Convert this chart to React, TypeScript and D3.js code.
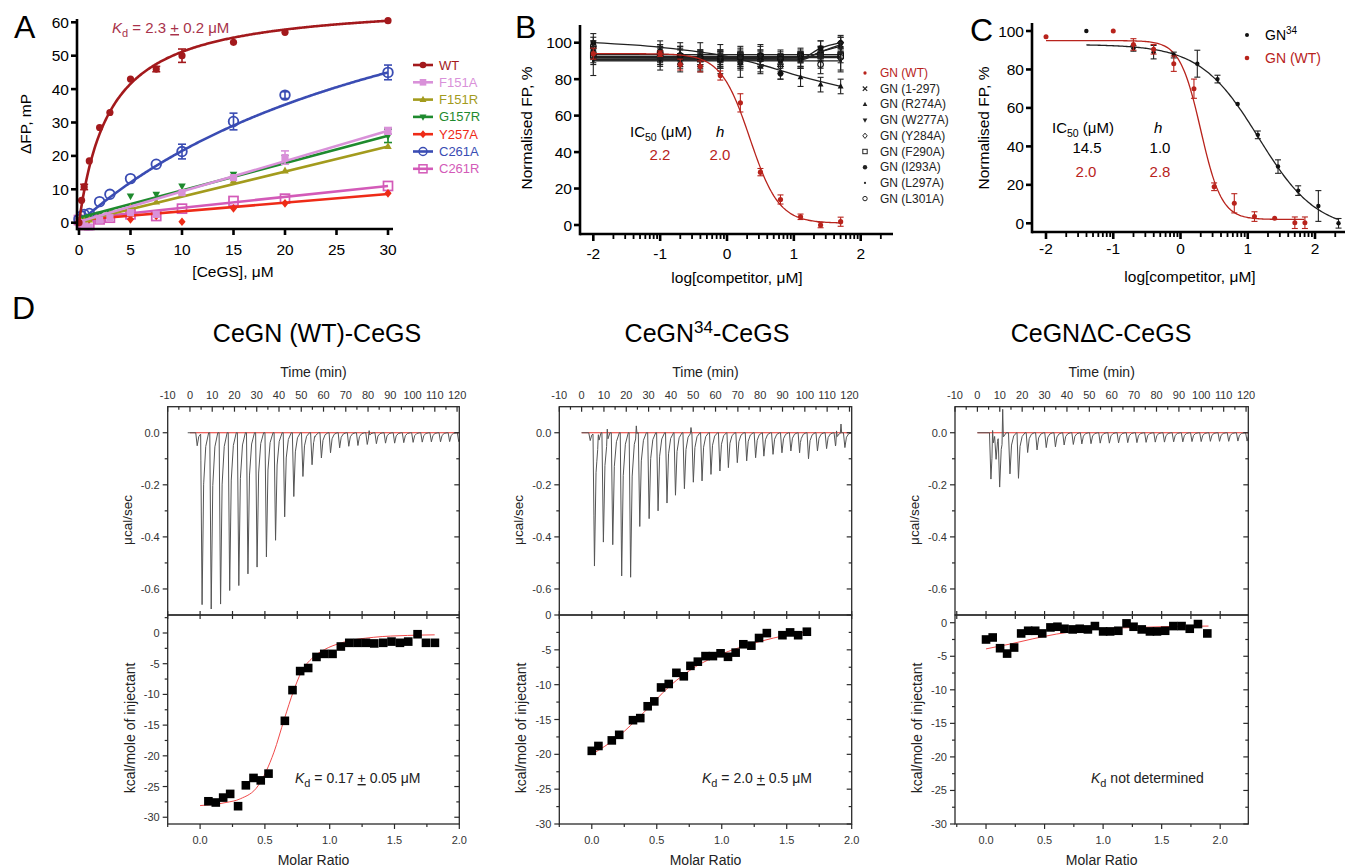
import React from 'react';
import * as d3 from 'd3';

type Pt = [number, number];
const FONT = '"Liberation Sans", Arial, Helvetica, sans-serif';

// ================= Panel A : ΔFP vs [CeGS] =================
const A_CONC = [0, 0.25, 0.5, 1, 2, 3, 5, 7.5, 10, 15, 20, 30];
const A_NAMES = ['WT', 'F151A', 'F151R', 'G157R', 'Y257A', 'C261A', 'C261R'];
const A_COLORS = ['#a3191c', '#d991d9', '#a39b1d', '#1e8a2e', '#ee2b17', '#3a4cb3', '#d35ab8'];
const A_MARKERS = ['circle', 'square', 'tri', 'tridown', 'diamond', 'ocircle', 'osquare'];
const A_WT = [0, 6.7, 10.7, 18.5, 28.5, 33, 43, 46, 50, 54, 57, 60.5];
const A_F151A = [0, 0, -1, -1.3, 0.8, 1.5, 3, 2.5, 9, 13.5, 19.5, 27.5];
const A_F151R = [0, 0.3, 0.5, 0.8, 1.5, 2.5, 4.5, 6.2, 9, 12.5, 15.5, 22.8];
const A_G157R = [0.5, 1, 1.2, 1.8, 2.5, 3, 8, 8.5, 11, 14.5, 19.5, 26];
const A_Y257A = [0, 0.3, 0.5, 1, 1.5, 2, 1, 2, 0.3, 4.3, 5.8, 8.8];
const A_C261A = [1, 2, 2.5, 2.8, 6.3, 8.5, 13.2, 17.5, 21.3, 30.3, 38.2, 45];
const A_C261R = [0.8, 0, -0.7, -0.7, 1, 1.5, 2.5, 2, 4.2, 6.5, 7.2, 11];
const A_VALUES = [A_WT, A_F151A, A_F151R, A_G157R, A_Y257A, A_C261A, A_C261R];
const A_ERR_WT = [0, 0, 0.8, 0, 0, 0, 0, 0.8, 2, 0, 0, 0];
const A_ERR_F151A = [0, 0, 0, 0, 0, 0, 0, 0, 0, 0, 2, 1];
const A_ERR_G157R = [0, 0, 0, 0, 0, 0, 0, 0, 0, 0, 0, 2];
const A_ERR_C261A = [0, 0, 0, 0, 0, 0, 0, 0, 2.2, 2.5, 1, 2.2];
const A_ERRORS = [A_ERR_WT, A_ERR_F151A, null, A_ERR_G157R, null, A_ERR_C261A, null];
// fits: hyperbola (Bmax, K) or straight line (value at 0, value at 30)
const A_FIT_KIND = ['hyperbola', 'linear', 'linear', 'linear', 'linear', 'hyperbola', 'linear'];
const A_FIT_P1 = [66.5, 0.3, 0.3, 1.5, 0.8, 99.3, 1.2];
const A_FIT_P2 = [3.0, 27.5, 22.8, 26, 8.6, 36.2, 11];

// ================= Panel B : competition FP =================
const B_LOGC = [-2, -1, -0.7, -0.4, -0.1, 0.2, 0.5, 0.8, 1.1, 1.4, 1.7];
const B_NAMES = ['GN (WT)', 'GN (1-297)', 'GN (R274A)', 'GN (W277A)', 'GN (Y284A)', 'GN (F290A)', 'GN (I293A)', 'GN (L297A)', 'GN (L301A)'];
const B_MARKERS = ['dot', 'cross', 'tri', 'tridown', 'odiamond', 'osquare', 'circle', 'smalldot', 'ocircle'];
const B_WT = [94, 94, 88, 87, 82, 67, 29, 14, 4.5, 0, 1.8];
const B_1_297 = [92, 91, 90, 91, 92, 91, 91, 90, 91, 96, 99];
const B_R274A = [100, 96, 94, 92, 91, 89, 87, 84, 81, 77, 76];
const B_W277A = [95, 93, 92, 91, 91, 90, 90, 89, 90, 94, 97];
const B_Y284A = [97, 94, 92, 92, 92, 91, 93, 87, 91, 95, 100];
const B_F290A = [93, 93, 92, 91, 91, 93, 92, 92, 93, 93, 93];
const B_I293A = [100, 93, 91, 91, 91, 89, 91, 83, 92, 97, 100];
const B_L297A = [90, 90, 90, 90, 90, 90, 90, 90, 90, 90, 90];
const B_L301A = [98, 95, 93, 92, 91, 92, 93, 91, 93, 88, 92];
const B_VALUES = [B_WT, B_1_297, B_R274A, B_W277A, B_Y284A, B_F290A, B_I293A, B_L297A, B_L301A];
const B_ERR_WT = [3, 1.5, 3, 3, 2.5, 5, 2, 2.5, 1.5, 1.5, 2.5];
const B_ERR_BLACK = [4, 4, 3, 3, 4, 4, 5, 8, 3, 4, 5];
const B_WT_FIT = { top: 94, bottom: 1, ic50: 2.2, h: 2.0 };
const B_FIT_NODES: Pt[][] = [
  [],
  [[-2, 91], [1.1, 91], [1.4, 95], [1.7, 99]],
  [[-2, 100], [-1, 97.5], [0, 92.5], [0.5, 88], [1.1, 81.5], [1.7, 76]],
  [[-2, 90.5], [1.1, 90.5], [1.4, 95], [1.7, 98]],
  [[-2, 92.5], [1.7, 92.5]],
  [[-2, 93.5], [1.7, 93.5]],
  [[-2, 91], [1.1, 91.5], [1.4, 97], [1.7, 100]],
  [[-2, 90], [1.7, 90]],
  [[-2, 91.8], [1.7, 91.8]],
];

// ================= Panel C : GN34 vs GN(WT) =================
const C_LOGC_34 = [-1.4, -0.7, -0.4, -0.1, 0.25, 0.55, 0.85, 1.15, 1.45, 1.75, 2.05, 2.35];
const C_GN34 = [100, 91, 89, 87.5, 83, 75, 62, 46, 29.5, 17, 9, 0];
const C_GN34_ERR = [0, 1.5, 3.5, 1.5, 7, 2, 0, 2, 3.5, 2.5, 8, 2.5];
const C_LOGC_WT = [-2, -1, -0.7, -0.4, -0.1, 0.2, 0.5, 0.8, 1.1, 1.4, 1.7, 1.85];
const C_WT = [97, 100, 93, 90.5, 83, 70, 19, 10.4, 3.5, 2.6, 0.3, 0.3];
const C_WT_ERR = [0, 0, 3, 2.5, 4, 5, 2, 5, 2.5, 0, 3, 3];
const C_FIT_34 = { top: 93, bottom: -4, ic50: 14.5, h: 1.0 };
const C_FIT_WT = { top: 95, bottom: 2, ic50: 2.0, h: 2.8 };

// ================= Panel D : ITC =================
// thermogram peaks: [time (min), peak power (µcal/s)]
const D_WT_PEAKS: Pt[] = [[2.8, -0.05], [5, -0.658], [9.1, -0.677], [13.3, -0.658], [17.4, -0.606], [21.5, -0.587], [25.6, -0.542], [29.7, -0.516], [33.9, -0.477], [38, -0.413], [42.1, -0.323], [46.2, -0.245], [50.3, -0.168], [54.4, -0.123], [58.6, -0.097], [62.7, -0.077], [66.8, -0.058], [70.9, -0.052], [75, -0.049], [79.2, -0.045], [83.3, -0.042], [87.4, -0.04], [91.5, -0.04], [95.6, -0.038], [99.8, -0.037], [103.9, -0.036], [108, -0.035], [112.1, -0.035], [116.2, -0.034], [120.3, -0.034]];
const D_WT_SPIKES: Pt[] = [[56, 0.01], [80.5, 0.02]];
const D_WT_RATIO = [0.064, 0.121, 0.178, 0.232, 0.293, 0.353, 0.412, 0.468, 0.528, 0.654, 0.713, 0.772, 0.834, 0.898, 0.958, 1.022, 1.086, 1.151, 1.215, 1.279, 1.344, 1.413, 1.477, 1.542, 1.606, 1.678, 1.743, 1.812];
const D_WT_HEAT = [-27.4, -27.6, -26.8, -26.2, -28.2, -24.8, -23.6, -24.0, -22.9, -14.3, -9.3, -6.2, -5.7, -3.9, -3.4, -3.4, -2.2, -1.6, -1.6, -1.6, -1.7, -1.6, -1.4, -1.6, -1.4, -0.2, -1.6, -1.6];
const D_WT_FIT_RATIO = [0, 0.2, 0.31, 0.45, 0.57, 0.65, 0.72, 0.78, 0.87, 0.96, 1.09, 1.34, 1.6, 1.81];
const D_WT_FIT_HEAT = [-28.1, -27.6, -27, -24.8, -19.4, -14, -9.5, -6.4, -4, -2.7, -1.6, -0.7, -0.4, -0.3];

const D_34_PEAKS: Pt[] = [[3.4, -0.03], [5.3, -0.51], [9.3, -0.42], [13.5, -0.43], [17.5, -0.55], [21.5, -0.555], [25.6, -0.36], [29.8, -0.33], [33.8, -0.30], [37.8, -0.27], [41.6, -0.24], [45.6, -0.215], [49.6, -0.19], [53.5, -0.185], [57.5, -0.16], [61.5, -0.147], [65.3, -0.134], [69.3, -0.115], [73.5, -0.108], [77.5, -0.096], [81.2, -0.09], [85.3, -0.083], [89.3, -0.077], [93.3, -0.07], [97.2, -0.077], [101.2, -0.1], [105.2, -0.07], [109.3, -0.061], [113.3, -0.051], [117.5, -0.057]];
const D_34_SPIKES: Pt[] = [[7.5, 0.03], [11.5, 0.045], [24.5, 0.04], [49, 0.02], [98, 0.012], [114.2, 0.035], [116.2, 0.035]];
const D_34_RATIO = [0, 0.051, 0.154, 0.211, 0.317, 0.373, 0.43, 0.481, 0.533, 0.592, 0.651, 0.708, 0.759, 0.816, 0.875, 0.932, 0.991, 1.048, 1.107, 1.166, 1.228, 1.287, 1.347, 1.467, 1.526, 1.588, 1.655];
const D_34_HEAT = [-19.5, -18.8, -18.0, -17.2, -15.1, -14.8, -13.1, -12.4, -10.4, -9.9, -8.3, -8.8, -7.3, -6.7, -5.9, -5.9, -5.5, -6.0, -5.4, -4.2, -4.4, -3.3, -2.6, -2.9, -2.5, -2.9, -2.4];
const D_34_FIT_RATIO = [0, 0.2, 0.4, 0.6, 0.8, 1.0, 1.2, 1.4, 1.66];
const D_34_FIT_HEAT = [-20, -17.5, -14, -10.2, -7.4, -5.6, -4.3, -3.3, -2.4];

const D_DC_PEAKS: Pt[] = [[5.6, -0.178], [7.9, -0.095], [9.5, -0.2], [14.1, -0.158], [17.9, -0.175], [22, -0.076], [26.2, -0.066], [30.3, -0.057], [34.4, -0.054], [38.3, -0.047], [42.4, -0.045], [46.2, -0.043], [50.3, -0.042], [54.4, -0.04], [58.5, -0.04], [62.6, -0.039], [66.7, -0.038], [70.8, -0.038], [74.9, -0.037], [79, -0.036], [83.1, -0.036], [87.2, -0.035], [91.3, -0.035], [95.4, -0.034], [99.5, -0.034], [103.6, -0.033], [107.7, -0.033], [111.8, -0.033], [115.9, -0.032], [120, -0.032]];
const D_DC_SPIKES: Pt[] = [[6.8, 0.06], [11.3, 0.12]];
const D_DC_RATIO = [0, 0.057, 0.12, 0.18, 0.24, 0.30, 0.36, 0.42, 0.48, 0.55, 0.61, 0.67, 0.74, 0.80, 0.87, 0.93, 1.0, 1.06, 1.13, 1.20, 1.26, 1.33, 1.40, 1.46, 1.53, 1.60, 1.67, 1.74, 1.81, 1.89];
const D_DC_HEAT = [-2.5, -2.2, -3.8, -4.6, -3.7, -1.6, -1.2, -1.2, -1.6, -0.7, -0.6, -0.9, -1.0, -0.9, -1.0, -0.5, -1.3, -1.3, -1.2, -0.1, -0.6, -1.0, -1.3, -1.3, -1.2, -0.5, -0.5, -0.9, -0.2, -1.6];
const D_DC_FIT_RATIO = [0, 0.2, 0.4, 0.6, 0.8, 1.0, 1.3, 1.6, 1.9];
const D_DC_FIT_HEAT = [-3.9, -3.2, -2.4, -1.7, -1.2, -0.9, -0.7, -0.55, -0.5];

// ---------------- helpers ----------------
const RED = '#b8231c';

function Marker({ kind, x, y, r, color }: { kind: string; x: number; y: number; r: number; color: string }) {
  switch (kind) {
    case 'circle':
      return <circle cx={x} cy={y} r={r} fill={color} />;
    case 'dot':
      return <circle cx={x} cy={y} r={r * 0.75} fill={color} />;
    case 'smalldot':
      return <circle cx={x} cy={y} r={r * 0.5} fill={color} />;
    case 'ocircle':
      return <circle cx={x} cy={y} r={r} fill="none" stroke={color} strokeWidth={Math.max(1, r * 0.38)} />;
    case 'square':
      return <rect x={x - r} y={y - r} width={2 * r} height={2 * r} fill={color} />;
    case 'osquare':
      return <rect x={x - r} y={y - r} width={2 * r} height={2 * r} fill="none" stroke={color} strokeWidth={Math.max(1, r * 0.38)} />;
    case 'tri':
      return <polygon points={`${x},${y - r * 1.2} ${x + r * 1.05},${y + r * 0.7} ${x - r * 1.05},${y + r * 0.7}`} fill={color} />;
    case 'tridown':
      return <polygon points={`${x},${y + r * 1.2} ${x + r * 1.05},${y - r * 0.7} ${x - r * 1.05},${y - r * 0.7}`} fill={color} />;
    case 'diamond':
      return <polygon points={`${x},${y - r * 1.2} ${x + r},${y} ${x},${y + r * 1.2} ${x - r},${y}`} fill={color} />;
    case 'odiamond':
      return <polygon points={`${x},${y - r * 1.2} ${x + r},${y} ${x},${y + r * 1.2} ${x - r},${y}`} fill="none" stroke={color} strokeWidth={1} />;
    case 'cross':
      return (
        <g stroke={color} strokeWidth={1.2}>
          <line x1={x - r} y1={y - r} x2={x + r} y2={y + r} />
          <line x1={x - r} y1={y + r} x2={x + r} y2={y - r} />
        </g>
      );
    default:
      return null;
  }
}

function ErrBar({ x, y0, y1, color, cap = 3, w = 1.2 }: { x: number; y0: number; y1: number; color: string; cap?: number; w?: number }) {
  return (
    <g stroke={color} strokeWidth={w}>
      <line x1={x} x2={x} y1={y0} y2={y1} />
      <line x1={x - cap} x2={x + cap} y1={y0} y2={y0} />
      <line x1={x - cap} x2={x + cap} y1={y1} y2={y1} />
    </g>
  );
}

function hillCurve(p: { top: number; bottom: number; ic50: number; h: number }, lo: number, hi: number): Pt[] {
  const l = Math.log10(p.ic50);
  return d3.range(lo, hi + 1e-9, 0.02).map((v) => [v, p.bottom + (p.top - p.bottom) / (1 + Math.pow(10, (v - l) * p.h))] as Pt);
}

function logTicks(lo: number, hi: number) {
  const major = d3.range(Math.ceil(lo), Math.floor(hi) + 1);
  const minor: number[] = [];
  for (let n = Math.floor(lo); n <= hi; n++) {
    for (let k = 2; k <= 9; k++) {
      const v = n + Math.log10(k);
      if (v >= lo && v <= hi) minor.push(v);
    }
  }
  return { major, minor };
}

// ---------------- Panel A ----------------
function PanelA() {
  const x = d3.scaleLinear().domain([0, 30]).range([79, 388]);
  const y = d3.scaleLinear().domain([0, 60]).range([222.7, 22.3]);
  const axY = 229;
  const axX = 77;
  const line = d3.line<Pt>().x((d) => x(d[0])).y((d) => y(d[1]));
  const order = [6, 5, 4, 3, 2, 1, 0];
  return (
    <g>
      <text x={14} y={38} fontSize={32}>A</text>
      {order.map((i) => {
        const fit: Pt[] = A_FIT_KIND[i] === 'hyperbola'
          ? d3.range(0, 30.0001, 0.1).map((c) => [c, (A_FIT_P1[i] * c) / (A_FIT_P2[i] + c)] as Pt)
          : [[0, A_FIT_P1[i]], [30, A_FIT_P2[i]]];
        const errs = A_ERRORS[i];
        return (
          <g key={A_NAMES[i]}>
            <path d={line(fit) || ''} fill="none" stroke={A_COLORS[i]} strokeWidth={2.6} />
            {errs && A_CONC.map((c, j) => errs[j] > 0 ? (
              <ErrBar key={j} x={x(c)} y0={y(A_VALUES[i][j] - errs[j])} y1={y(A_VALUES[i][j] + errs[j])} color={A_COLORS[i]} cap={4} w={1.6} />
            ) : null)}
            {A_CONC.map((c, j) => (
              <Marker key={j} kind={A_MARKERS[i]} x={x(c)} y={y(A_VALUES[i][j])} r={A_MARKERS[i] === 'ocircle' ? 4.8 : A_MARKERS[i] === 'osquare' ? 4.5 : 3.6} color={A_COLORS[i]} />
            ))}
          </g>
        );
      })}
      <g stroke="#000" strokeWidth={2.6}>
        <line x1={axX} x2={393} y1={axY} y2={axY} />
        <line x1={axX} x2={axX} y1={axY + 1.3} y2={19} />
        {d3.range(0, 31, 5).map((v) => <line key={v} x1={x(v)} x2={x(v)} y1={axY} y2={axY + 6} />)}
        {d3.range(0, 61, 10).map((v) => <line key={v} x1={axX - 6} x2={axX} y1={y(v)} y2={y(v)} />)}
      </g>
      {d3.range(0, 31, 5).map((v) => <text key={v} x={x(v)} y={255} fontSize={15.5} textAnchor="middle">{v}</text>)}
      {d3.range(0, 61, 10).map((v) => <text key={v} x={axX - 8} y={y(v) + 5.5} fontSize={15.5} textAnchor="end">{v}</text>)}
      <text x={233} y={277} fontSize={15.5} textAnchor="middle">[CeGS], μM</text>
      <text transform="translate(31,124) rotate(-90)" fontSize={15.5} textAnchor="middle">ΔFP, mP</text>
      <text x={112} y={33} fontSize={15} fill="#a8324a">
        <tspan fontStyle="italic">K</tspan>
        <tspan fontSize={11} dy={4}>d</tspan>
        <tspan dy={-4}> = 2.3 </tspan>
        <tspan textDecoration="underline">+</tspan>
        <tspan> 0.2 μM</tspan>
      </text>
      {A_NAMES.map((n, i) => {
        const ly = 65 + i * 17.3;
        return (
          <g key={n}>
            <line x1={413} x2={433} y1={ly} y2={ly} stroke={A_COLORS[i]} strokeWidth={2.6} />
            <Marker kind={A_MARKERS[i]} x={423} y={ly} r={A_MARKERS[i] === 'ocircle' ? 4 : A_MARKERS[i] === 'osquare' ? 4 : 3.3} color={A_COLORS[i]} />
            <text x={439} y={ly + 4.5} fontSize={13} fill={A_COLORS[i]}>{n}</text>
          </g>
        );
      })}
    </g>
  );
}

// ---------------- Panel B ----------------
function PanelB() {
  const x = d3.scaleLinear().domain([-2, 2]).range([593.3, 860.7]);
  const y = d3.scaleLinear().domain([0, 100]).range([225, 42.7]);
  const axY = 234;
  const axX = 580;
  const t = logTicks(-2, 2.46);
  const line = d3.line<Pt>().x((d) => x(d[0])).y((d) => y(d[1]));
  const smooth = d3.line<Pt>().x((d) => x(d[0])).y((d) => y(d[1])).curve(d3.curveMonotoneX);
  return (
    <g>
      <text x={515} y={38} fontSize={32}>B</text>
      {B_NAMES.map((n, i) => {
        if (i === 0) return null;
        return (
          <g key={n}>
            <path d={smooth(B_FIT_NODES[i]) || ''} fill="none" stroke="#222" strokeWidth={1.3} />
            {B_LOGC.map((c, j) => (
              <ErrBar key={'e' + j} x={x(c)} y0={y(B_VALUES[i][j] - B_ERR_BLACK[(j + i) % B_ERR_BLACK.length])} y1={y(B_VALUES[i][j] + B_ERR_BLACK[(j + i) % B_ERR_BLACK.length])} color="#222" cap={3} w={1.1} />
            ))}
            {B_LOGC.map((c, j) => (
              <Marker key={j} kind={B_MARKERS[i]} x={x(c)} y={y(B_VALUES[i][j])} r={2.8} color="#111" />
            ))}
          </g>
        );
      })}
      <path d={line(hillCurve(B_WT_FIT, -2, 1.7)) || ''} fill="none" stroke={RED} strokeWidth={1.3} />
      {B_LOGC.map((c, j) => (
        <g key={j}>
          <ErrBar x={x(c)} y0={y(B_WT[j] - B_ERR_WT[j])} y1={y(B_WT[j] + B_ERR_WT[j])} color={RED} cap={3} w={1.1} />
          <circle cx={x(c)} cy={y(B_WT[j])} r={2.6} fill={RED} />
        </g>
      ))}
      <g stroke="#000" strokeWidth={2.6}>
        <line x1={axX} x2={893} y1={axY} y2={axY} />
        <line x1={axX} x2={axX} y1={axY + 1.3} y2={25} />
        {t.major.map((v) => <line key={v} x1={x(v)} x2={x(v)} y1={axY} y2={axY + 7} />)}
        {d3.range(0, 101, 20).map((v) => <line key={v} x1={axX - 6} x2={axX} y1={y(v)} y2={y(v)} />)}
      </g>
      <g stroke="#000" strokeWidth={1.8}>
        {t.minor.map((v, k) => <line key={k} x1={x(v)} x2={x(v)} y1={axY} y2={axY + 5} />)}
      </g>
      {t.major.map((v) => <text key={v} x={x(v)} y={259} fontSize={15.5} textAnchor="middle">{v}</text>)}
      {d3.range(0, 101, 20).map((v) => <text key={v} x={axX - 8} y={y(v) + 5.5} fontSize={15.5} textAnchor="end">{v}</text>)}
      <text x={737} y={283} fontSize={15.5} textAnchor="middle">log[competitor, μM]</text>
      <text transform="translate(532,128) rotate(-90)" fontSize={15.5} textAnchor="middle">Normalised FP, %</text>
      <text x={630} y={137} fontSize={15}>IC<tspan fontSize={10.5} dy={4}>50</tspan><tspan dy={-4}> (μM)</tspan></text>
      <text x={716} y={137} fontSize={15} fontStyle="italic">h</text>
      <text x={660} y={160} fontSize={15} fill={RED} textAnchor="middle">2.2</text>
      <text x={720} y={160} fontSize={15} fill={RED} textAnchor="middle">2.0</text>
      {B_NAMES.map((n, i) => {
        const ly = 73 + i * 15.7;
        const col = i === 0 ? RED : '#222';
        return (
          <g key={n}>
            <Marker kind={B_MARKERS[i]} x={865} y={ly} r={2.2} color={col} />
            <text x={880} y={ly + 4} fontSize={12} fill={col}>{n}</text>
          </g>
        );
      })}
    </g>
  );
}

// ---------------- Panel C ----------------
function PanelC() {
  const x = d3.scaleLinear().domain([-2, 2]).range([1046, 1315]);
  const y = d3.scaleLinear().domain([0, 100]).range([223.3, 31]);
  const axY = 232;
  const axX = 1032;
  const t = logTicks(-2, 2.46);
  const line = d3.line<Pt>().x((d) => x(d[0])).y((d) => y(d[1]));
  return (
    <g>
      <text x={970} y={41} fontSize={32}>C</text>
      <path d={line(hillCurve(C_FIT_34, -1.4, 2.35)) || ''} fill="none" stroke="#222" strokeWidth={1.3} />
      <path d={line(hillCurve(C_FIT_WT, -2, 1.85)) || ''} fill="none" stroke={RED} strokeWidth={1.3} />
      {C_LOGC_34.map((c, j) => (
        <g key={'b' + j}>
          {C_GN34_ERR[j] > 0 && <ErrBar x={x(c)} y0={y(C_GN34[j] - C_GN34_ERR[j])} y1={y(C_GN34[j] + C_GN34_ERR[j])} color="#222" cap={3} w={1.1} />}
          <circle cx={x(c)} cy={y(C_GN34[j])} r={2.2} fill="#111" />
        </g>
      ))}
      {C_LOGC_WT.map((c, j) => (
        <g key={'r' + j}>
          {C_WT_ERR[j] > 0 && <ErrBar x={x(c)} y0={y(C_WT[j] - C_WT_ERR[j])} y1={y(C_WT[j] + C_WT_ERR[j])} color={RED} cap={3} w={1.1} />}
          <circle cx={x(c)} cy={y(C_WT[j])} r={2.5} fill={RED} />
        </g>
      ))}
      <g stroke="#000" strokeWidth={2.6}>
        <line x1={axX} x2={1345} y1={axY} y2={axY} />
        <line x1={axX} x2={axX} y1={axY + 1.3} y2={23} />
        {t.major.map((v) => <line key={v} x1={x(v)} x2={x(v)} y1={axY} y2={axY + 7} />)}
        {d3.range(0, 101, 20).map((v) => <line key={v} x1={axX - 6} x2={axX} y1={y(v)} y2={y(v)} />)}
      </g>
      <g stroke="#000" strokeWidth={1.8}>
        {t.minor.map((v, k) => <line key={k} x1={x(v)} x2={x(v)} y1={axY} y2={axY + 5} />)}
      </g>
      {t.major.map((v) => <text key={v} x={x(v)} y={254} fontSize={15.5} textAnchor="middle">{v}</text>)}
      {d3.range(0, 101, 20).map((v) => <text key={v} x={axX - 8} y={y(v) + 5.5} fontSize={15.5} textAnchor="end">{v}</text>)}
      <text x={1190} y={282} fontSize={15.5} textAnchor="middle">log[competitor, μM]</text>
      <text transform="translate(989,128) rotate(-90)" fontSize={15.5} textAnchor="middle">Normalised FP, %</text>
      <text x={1052} y={133} fontSize={15}>IC<tspan fontSize={10.5} dy={4}>50</tspan><tspan dy={-4}> (μM)</tspan></text>
      <text x={1154} y={133} fontSize={15} fontStyle="italic">h</text>
      <text x={1087} y={153} fontSize={15} textAnchor="middle">14.5</text>
      <text x={1160} y={153} fontSize={15} textAnchor="middle">1.0</text>
      <text x={1086} y={177} fontSize={15} fill={RED} textAnchor="middle">2.0</text>
      <text x={1160} y={177} fontSize={15} fill={RED} textAnchor="middle">2.8</text>
      <circle cx={1247} cy={35} r={2} fill="#111" />
      <text x={1265} y={40} fontSize={14}>GN<tspan fontSize={10} dy={-6}>34</tspan></text>
      <circle cx={1247} cy={58} r={2.3} fill={RED} />
      <text x={1265} y={63} fontSize={14} fill={RED}>GN (WT)</text>
    </g>
  );
}

// ---------------- Panel D ----------------
const D_TOP = 406.7;
const D_MID = 615;
const D_BOT = 824;
const TIME_DOMAIN: Pt = [-10, 121];
const POWER_DOMAIN: Pt = [-0.7, 0.1];
// glyph shapes of an injection peak and of a short noise spike (relative time, fraction of height)
const PEAK_SHAPE: Pt[] = [[-0.2, 0], [0.45, 1], [1.15, 0.3], [2.1, 0.08], [3.4, 0]];
const SPIKE_SHAPE: Pt[] = [[-0.3, 0], [0, 1], [0.3, 0]];

function buildTrace(peaks: Pt[], spikes: Pt[], start: number, end: number): Pt[] {
  const ks = [
    ...peaks.map(([t, d]) => ({ t, d, kn: PEAK_SHAPE })),
    ...spikes.map(([t, d]) => ({ t, d, kn: SPIKE_SHAPE })),
  ];
  const times = new Set<number>([start, end]);
  ks.forEach((k) => k.kn.forEach(([dt]) => {
    const tt = k.t + dt;
    if (tt > start && tt < end) times.add(tt);
  }));
  const ts = Array.from(times).sort((a, b) => a - b);
  const ev = (k: { t: number; d: number; kn: Pt[] }, t: number) => {
    const rel = t - k.t;
    const kn = k.kn;
    if (rel <= kn[0][0] || rel >= kn[kn.length - 1][0]) return 0;
    for (let i = 1; i < kn.length; i++) {
      if (rel <= kn[i][0]) {
        const [t0, v0] = kn[i - 1];
        const [t1, v1] = kn[i];
        return k.d * (v0 + ((v1 - v0) * (rel - t0)) / (t1 - t0));
      }
    }
    return 0;
  };
  return ts.map((t) => [t, ks.reduce((s, k) => s + ev(k, t), 0)] as Pt);
}

interface ItcSpec {
  left: number;
  right: number;
  heatDomain: Pt;
  ratioDomain: Pt;
  peaks: Pt[];
  spikes: Pt[];
  traceStart: number;
  ratio: number[];
  heat: number[];
  fitRatio: number[];
  fitHeat: number[];
  title: React.ReactNode;
  kd: React.ReactNode;
  kdX: number;
}

const AX = '#2a2a2a';

function Itc({ s }: { s: ItcSpec }) {
  const tx = d3.scaleLinear().domain(TIME_DOMAIN).range([s.left, s.right]);
  const py = d3.scaleLinear().domain(POWER_DOMAIN).range([D_MID, D_TOP]);
  const rx = d3.scaleLinear().domain(s.ratioDomain).range([s.left, s.right]);
  const hy = d3.scaleLinear().domain(s.heatDomain).range([D_BOT, D_MID]);
  const trace = buildTrace(s.peaks, s.spikes, s.traceStart, 121);
  const traceLine = d3.line<Pt>().x((d) => tx(d[0])).y((d) => py(d[1]));
  const fitLine = d3.line<Pt>().x((d) => rx(d[0])).y((d) => hy(d[1])).curve(d3.curveMonotoneX);
  const cx = (s.left + s.right) / 2;
  const w = s.right - s.left;
  const timeMajor = d3.range(-10, 121, 10);
  const timeMinor = d3.range(-5, 121, 10);
  const pTicks = d3.range(-6, 1).map((v) => v / 10);
  const hTicks = d3.range(Math.ceil(s.heatDomain[0] / 2.5), Math.floor(s.heatDomain[1] / 2.5) + 1).map((k) => k * 2.5);
  const rTicks = d3.range(Math.ceil(s.ratioDomain[0] / 0.25 - 1e-9), Math.floor(s.ratioDomain[1] / 0.25 + 1e-9) + 1).map((k) => k * 0.25);
  const fitPts: Pt[] = s.fitRatio.map((r, i) => [r, s.fitHeat[i]]);
  return (
    <g>
      {s.title}
      <text x={cx} y={377} fontSize={14} textAnchor="middle" fill="#222">Time (min)</text>
      {timeMajor.map((v) => <text key={v} x={tx(v)} y={399} fontSize={11} textAnchor="middle" fill="#333">{v}</text>)}
      {/* thermogram */}
      <line x1={tx(0)} x2={s.right} y1={py(0)} y2={py(0)} stroke="#e8302a" strokeWidth={1.1} />
      <path d={traceLine(trace) || ''} fill="none" stroke="#555" strokeWidth={1} />
      {/* frames */}
      <rect x={s.left} y={D_TOP} width={w} height={D_MID - D_TOP} fill="none" stroke={AX} strokeWidth={1.3} />
      <rect x={s.left} y={D_MID} width={w} height={D_BOT - D_MID} fill="none" stroke={AX} strokeWidth={1.3} />
      <g stroke={AX} strokeWidth={1.2}>
        {timeMajor.map((v) => <line key={'tM' + v} x1={tx(v)} x2={tx(v)} y1={D_TOP} y2={D_TOP + 5} />)}
        {timeMinor.map((v) => <line key={'tm' + v} x1={tx(v)} x2={tx(v)} y1={D_TOP} y2={D_TOP + 3} />)}
        {pTicks.map((v) => {
          const major = Math.round(v * 10) % 2 === 0;
          return (
            <g key={'p' + v}>
              <line x1={s.left - (major ? 5 : 3)} x2={s.left} y1={py(v)} y2={py(v)} />
              <line x1={s.right - (major ? 5 : 3)} x2={s.right} y1={py(v)} y2={py(v)} />
            </g>
          );
        })}
        {hTicks.map((v) => {
          const major = Math.abs(v % 5) < 1e-9;
          return (
            <g key={'h' + v}>
              <line x1={s.left - (major ? 5 : 3)} x2={s.left} y1={hy(v)} y2={hy(v)} />
              <line x1={s.right - (major ? 5 : 3)} x2={s.right} y1={hy(v)} y2={hy(v)} />
            </g>
          );
        })}
        {rTicks.map((v) => {
          const major = Math.abs((v * 2) % 1) < 1e-9;
          return (
            <g key={'r' + v}>
              <line x1={rx(v)} x2={rx(v)} y1={D_BOT} y2={D_BOT + (major ? 5 : 3)} />
              <line x1={rx(v)} x2={rx(v)} y1={D_MID - 4} y2={D_MID + 4} />
            </g>
          );
        })}
      </g>
      {[0, -0.2, -0.4, -0.6].map((v) => (
        <text key={'pl' + v} x={s.left - 8} y={py(v) + 4} fontSize={11} textAnchor="end" fill="#333">{v === 0 ? '0.0' : v.toFixed(1)}</text>
      ))}
      {hTicks.filter((v) => Math.abs(v % 5) < 1e-9).map((v) => (
        <text key={'hl' + v} x={s.left - 8} y={hy(v) + 4} fontSize={11} textAnchor="end" fill="#333">{v === 0 ? '0' : String(v)}</text>
      ))}
      {rTicks.filter((v) => v >= 0 && Math.abs((v * 2) % 1) < 1e-9).map((v) => (
        <text key={'rl' + v} x={rx(v)} y={844} fontSize={11} textAnchor="middle" fill="#333">{v.toFixed(1)}</text>
      ))}
      <text x={cx} y={865} fontSize={14} textAnchor="middle" fill="#222">Molar Ratio</text>
      <text transform={`translate(${s.left - 36},520) rotate(-90)`} fontSize={13.5} textAnchor="middle" fill="#222">μcal/sec</text>
      <text transform={`translate(${s.left - 33},728) rotate(-90)`} fontSize={14} textAnchor="middle" fill="#222">kcal/mole of injectant</text>
      {/* binding isotherm */}
      <path d={fitLine(fitPts) || ''} fill="none" stroke="#f04a4a" strokeWidth={1} />
      {s.ratio.map((r, i) => (
        <rect key={i} x={rx(r) - 4.3} y={hy(s.heat[i]) - 4.3} width={8.6} height={8.6} fill="#000" />
      ))}
      <text x={s.kdX} y={783} fontSize={14} fill="#222">{s.kd}</text>
    </g>
  );
}

function PanelD() {
  const kdText = (val: string, err: string) => (
    <>
      <tspan fontStyle="italic">K</tspan>
      <tspan fontSize={11} dy={4}>d</tspan>
      <tspan dy={-4}>{` = ${val} `}</tspan>
      <tspan textDecoration="underline">+</tspan>
      <tspan>{` ${err} μM`}</tspan>
    </>
  );
  const specs: ItcSpec[] = [
    {
      left: 167.7, right: 459.3, heatDomain: [-31.1, 2.93], ratioDomain: [-0.25, 2.0],
      peaks: D_WT_PEAKS, spikes: D_WT_SPIKES, traceStart: -1,
      ratio: D_WT_RATIO, heat: D_WT_HEAT, fitRatio: D_WT_FIT_RATIO, fitHeat: D_WT_FIT_HEAT,
      title: <text x={317} y={342} fontSize={25} textAnchor="middle">CeGN (WT)-CeGS</text>,
      kd: kdText('0.17', '0.05'), kdX: 295,
    },
    {
      left: 559.3, right: 851.7, heatDomain: [-30, 0], ratioDomain: [-0.25, 2.0],
      peaks: D_34_PEAKS, spikes: D_34_SPIKES, traceStart: 0,
      ratio: D_34_RATIO, heat: D_34_HEAT, fitRatio: D_34_FIT_RATIO, fitHeat: D_34_FIT_HEAT,
      title: (
        <text x={707} y={342} fontSize={25} textAnchor="middle">
          CeGN<tspan fontSize={17} dy={-9}>34</tspan><tspan dy={9}>-CeGS</tspan>
        </text>
      ),
      kd: kdText('2.0', '0.5'), kdX: 702,
    },
    {
      left: 955, right: 1248.3, heatDomain: [-30, 1.15], ratioDomain: [-0.265, 2.24],
      peaks: D_DC_PEAKS, spikes: D_DC_SPIKES, traceStart: 0,
      ratio: D_DC_RATIO, heat: D_DC_HEAT, fitRatio: D_DC_FIT_RATIO, fitHeat: D_DC_FIT_HEAT,
      title: <text x={1101} y={342} fontSize={25} textAnchor="middle">CeGNΔC-CeGS</text>,
      kd: (
        <>
          <tspan fontStyle="italic">K</tspan>
          <tspan fontSize={11} dy={4}>d</tspan>
          <tspan dy={-4}> not determined</tspan>
        </>
      ),
      kdX: 1091,
    },
  ];
  return (
    <g>
      <text x={12} y={319} fontSize={32}>D</text>
      {specs.map((s, i) => <Itc key={i} s={s} />)}
    </g>
  );
}

export default function App() {
  return (
    <svg width={1347} height={868} style={{ position: 'absolute', left: 0, top: 0, background: '#fff' }} fontFamily={FONT}>
      <rect width={1347} height={868} fill="#fff" />
      <PanelA />
      <PanelB />
      <PanelC />
      <PanelD />
    </svg>
  );
}
